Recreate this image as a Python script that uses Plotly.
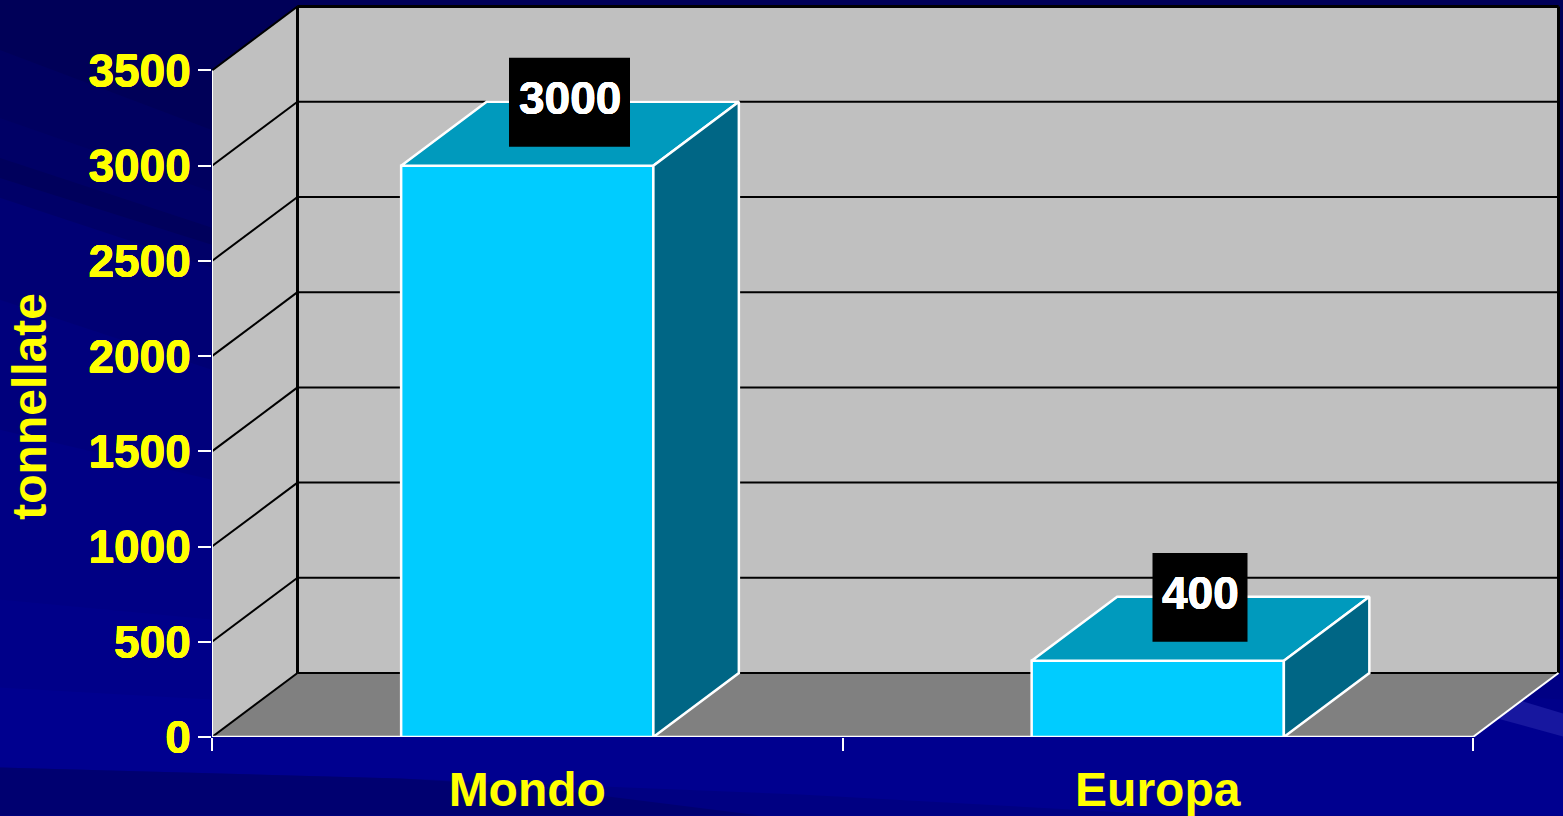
import plotly.graph_objects as go

categories = ["Mondo", "Europa"]
values = [3000, 400]
y_ticks = [0, 500, 1000, 1500, 2000, 2500, 3000, 3500]
AXIS_TITLE = "tonnellate"

W, H = 1563, 816
L, B = 212, 78.5
X_UNIT = 630.5
Y_UNIT = 667 / 3500
DX = 85.5 / X_UNIT
DY = 64 / Y_UNIT
BAR = 0.4
X0, X1 = -0.5, 1.5
Y_TOP = y_ticks[-1]
xr = [X0, X0 + (W - L) / X_UNIT]
yr = [0, (H - B) / Y_UNIT]
BOLD = "0.3px 0 0 {c}, -0.3px 0 0 {c}, 0 0.3px 0 {c}, 0 -0.3px 0 {c}"

def poly(pts):
    return "M " + " L ".join(f"{x},{y}" for x, y in pts) + " Z"

def px_poly(pts):
    return poly([((px - L) / (W - L), (H - B - py) / (H - B)) for px, py in pts])

shapes = []
# backdrop bands (darker to the upper left, lighter lower down)
bands = [
    ("#000058", [(0, 0), (W, 0), (W, H), (0, H)]),
    ("#000060", [(0, 50), (212, 130), (W, 500), (W, H), (0, H)]),
    ("#000066", [(0, 118), (212, 192), (W, 520), (W, H), (0, H)]),
    ("#00005c", [(0, 158), (212, 228), (W, 540), (W, H), (0, H)]),
    ("#000068", [(0, 178), (212, 245), (W, 560), (W, H), (0, H)]),
    ("#000074", [(0, 198), (212, 268), (W, 600), (W, H), (0, H)]),
    ("#00007c", [(0, 300), (212, 370), (W, 640), (W, H), (0, H)]),
    ("#000084", [(0, 430), (212, 480), (W, 660), (W, H), (0, H)]),
    ("#000089", [(0, 600), (212, 620), (W, 700), (W, H), (0, H)]),
    ("#00008f", [(0, 688), (212, 700), (W, 720), (W, H), (0, H)]),
    ("#000082", [(0, 768), (400, 779), (800, 795), (1180, H), (0, H)]),
    ("#000070", [(0, 768), (400, 779), (520, 786), (760, H), (0, H)]),
    ("#17179f", [(1510, 698), (W, 714), (W, 737), (1490, 717)]),
]
for color, pts in bands:
    shapes.append(dict(type="path", xref="paper", yref="paper", path=px_poly(pts), fillcolor=color,
                       line_width=0, layer="below"))

def wall(pts, fill):
    shapes.append(dict(type="path", xref="x", yref="y", path=poly(pts), fillcolor=fill,
                       line_width=0, layer="below"))

def seg(x0, y0, x1, y1, color="#000000", width=2):
    shapes.append(dict(type="line", xref="x", yref="y", x0=x0, y0=y0, x1=x1, y1=y1,
                       line=dict(color=color, width=width), layer="below"))

# back wall, side wall, floor
wall([(X0 + DX, DY), (X1 + DX, DY), (X1 + DX, Y_TOP + DY), (X0 + DX, Y_TOP + DY)], "#c0c0c0")
wall([(X0, 0), (X0 + DX, DY), (X0 + DX, Y_TOP + DY), (X0, Y_TOP)], "#c0c0c0")
wall([(X0, 0), (X1, 0), (X1 + DX, DY), (X0 + DX, DY)], "#808080")

for t in y_ticks:
    seg(X0, t, X0 + DX, t + DY)
    seg(X0 + DX, t + DY, X1 + DX, t + DY)
seg(X0 + DX, DY, X0 + DX, Y_TOP + DY, width=3)
seg(X1 + DX, DY, X1 + DX, Y_TOP + DY, width=3)
seg(X0 + DX, Y_TOP + DY, X1 + DX, Y_TOP + DY, width=3)
seg(X0, 0, X0, Y_TOP, "#ffffff", 2)
seg(X0, 0, X1, 0, "#ffffff", 2.5)
seg(X1, 0, X1 + DX, DY, "#ffffff", 2)

fig = go.Figure()
fig.add_trace(go.Bar(x=list(range(len(categories))), y=values, width=BAR,
                     marker=dict(color="#00ccff", line=dict(color="#ffffff", width=2.5)),
                     hoverinfo="skip", showlegend=False))

annotations = []
for i, v in enumerate(values):
    a, b = i - BAR / 2, i + BAR / 2
    fig.add_trace(go.Scatter(x=[a, b, b + DX, a + DX, a], y=[v, v, v + DY, v + DY, v],
                             mode="lines", fill="toself", fillcolor="#009abd",
                             line=dict(color="#ffffff", width=2.5), hoverinfo="skip", showlegend=False))
    fig.add_trace(go.Scatter(x=[b, b + DX, b + DX, b, b], y=[0, DY, v + DY, v, 0],
                             mode="lines", fill="toself", fillcolor="#006685",
                             line=dict(color="#ffffff", width=2.5), hoverinfo="skip", showlegend=False))
    # black label plate, then the value on top of it
    cx = i + DX / 2 - 0.5 / X_UNIT
    cy = v + DY / 2 + 31.5 / Y_UNIT
    hw = (26 * len(str(v)) + 17) / 2 / X_UNIT
    hh = 44.5 / Y_UNIT
    shapes.append(dict(type="rect", xref="x", yref="y", x0=cx - hw, x1=cx + hw, y0=cy - hh, y1=cy + hh,
                       fillcolor="#000000", line_width=0, layer="above"))
    annotations.append(dict(x=i + DX / 2, y=v + DY / 2, yshift=35.5, text=f"<b>{v}</b>", showarrow=False,
                            font=dict(family="Liberation Sans", size=46, color="#ffffff",
                                      shadow=BOLD.format(c="#ffffff")),
                            xanchor="center", yanchor="middle"))

annotations.append(dict(xref="paper", yref="paper", x=(30 - L) / (W - L), y=(H - B - 407) / (H - B),
                        text=f"<b>{AXIS_TITLE}</b>", textangle=-90, showarrow=False,
                        font=dict(family="Liberation Sans", size=48, color="#ffff00"),
                        xanchor="center", yanchor="middle"))

fig.update_layout(
    width=W, height=H, margin=dict(l=L, r=0, t=0, b=B, pad=0),
    paper_bgcolor="#00008f", plot_bgcolor="rgba(0,0,0,0)",
    shapes=shapes, annotations=annotations, showlegend=False,
    xaxis=dict(range=xr, tickvals=list(range(len(categories))), ticktext=[f"<b>{c}</b>" for c in categories],
               ticks="", showgrid=False, zeroline=False, showline=False, ticklabelstandoff=20, automargin=False,
               tickfont=dict(family="Liberation Sans", size=48, color="#ffff00"),
               minor=dict(tickvals=[X0, X0 + 1, X1], ticks="outside", ticklen=13, tickwidth=2,
                          tickcolor="#ffffff", showgrid=False)),
    yaxis=dict(range=yr, tickvals=y_ticks, ticktext=[f"<b>{t}</b>" for t in y_ticks],
               ticks="outside", ticklen=13, tickwidth=2, tickcolor="#ffffff", automargin=False,
               showgrid=False, zeroline=False, showline=False, ticklabelstandoff=-2,
               tickfont=dict(family="Liberation Sans", size=46, color="#ffff00",
                             shadow=BOLD.format(c="#ffff00"))),
)
fig.write_html("out.html", config=dict(displayModeBar=False),
               post_script="document.body.style.margin='0';document.body.style.overflow='hidden';document.body.style.background='#00008f';")
